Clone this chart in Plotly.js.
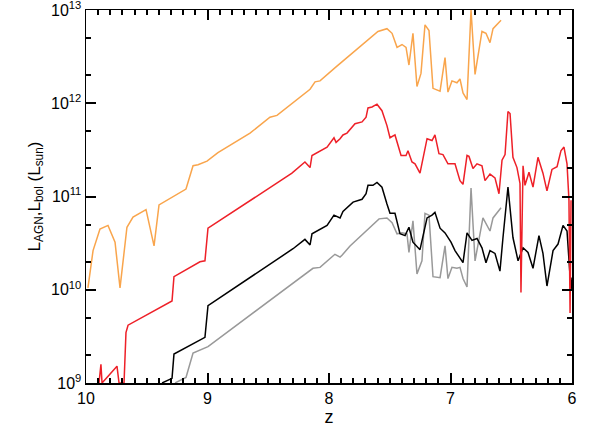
<!DOCTYPE html>
<html><head><script src="https://cdn.plot.ly/plotly-3.0.1.min.js"></script>
<style>body{margin:0}</style></head><body><div id="c" style="width:599px;height:437px"></div>
<script>
const orangeZ=[9.984,9.942,9.885,9.819,9.761,9.720,9.663,9.613,9.506,9.440,9.399,9.177,9.119,9.078,9.004,8.914,8.650,8.486,8.428,8.156,8.115,8.074,7.942,7.852,7.597,7.523,7.481,7.440,7.399,7.366,7.342,7.309,7.276,7.243,7.210,7.177,7.144,7.086,7.045,7.021,6.988,6.947,6.922,6.897,6.864,6.831,6.798,6.741,6.708,6.675,6.650,6.584];
const orangeLog=[10.02,10.42,10.65,10.69,10.51,10.02,10.67,10.78,10.86,10.47,10.91,11.08,11.33,11.34,11.38,11.47,11.68,11.85,11.87,12.15,12.23,12.24,12.39,12.49,12.77,12.80,12.75,12.60,12.63,12.60,12.41,12.75,12.18,12.32,12.84,12.78,12.16,12.13,12.49,12.12,12.24,12.22,12.26,12.11,12.04,13.00,12.31,12.77,12.75,12.65,12.80,12.89];
const redZ=[9.893,9.877,9.868,9.761,9.745,9.728,9.687,9.671,9.654,9.292,9.276,9.062,9.021,8.996,8.650,8.305,8.198,8.156,8.140,8.016,7.959,7.942,7.909,7.885,7.852,7.786,7.728,7.695,7.679,7.646,7.605,7.564,7.523,7.498,7.457,7.407,7.366,7.350,7.317,7.292,7.251,7.193,7.152,7.128,7.095,7.062,7.021,6.963,6.922,6.897,6.864,6.848,6.815,6.782,6.741,6.716,6.675,6.634,6.601,6.576,6.551,6.527,6.510,6.486,6.453,6.428,6.420,6.403,6.387,6.354,6.321,6.280,6.239,6.206,6.165,6.123,6.091,6.066,6.041,6.025,6.016,6.008];
const redLog=[9.00,9.20,9.00,9.15,9.18,9.00,9.00,9.54,9.62,9.88,10.14,10.30,10.31,10.66,10.96,11.25,11.37,11.31,11.44,11.53,11.63,11.58,11.62,11.66,11.68,11.78,11.80,11.85,11.95,11.96,11.99,11.92,11.76,11.63,11.66,11.44,11.44,11.49,11.37,11.35,11.25,11.62,11.60,11.66,11.46,11.45,11.35,11.35,11.17,11.13,11.44,11.43,11.30,11.35,11.33,11.17,11.24,11.20,11.03,11.39,11.45,11.91,11.89,11.42,11.31,11.14,9.97,11.33,11.12,11.26,11.10,11.42,11.25,11.06,11.29,11.32,11.49,11.53,11.35,10.96,9.75,10.96];
const blackZ=[9.374,9.292,9.276,9.037,9.021,8.996,8.403,8.296,8.198,8.156,8.140,8.016,7.959,7.909,7.885,7.802,7.728,7.695,7.679,7.638,7.605,7.564,7.523,7.498,7.457,7.416,7.374,7.342,7.309,7.251,7.193,7.152,7.128,7.086,7.045,6.996,6.963,6.922,6.897,6.864,6.823,6.782,6.741,6.708,6.675,6.634,6.593,6.568,6.527,6.486,6.444,6.403,6.362,6.321,6.272,6.239,6.206,6.156,6.115,6.074,6.041,6.008,6.000];
const blackLog=[9.00,9.05,9.31,9.48,9.49,9.83,10.34,10.44,10.54,10.48,10.60,10.69,10.80,10.77,10.84,10.94,10.97,11.03,11.12,11.12,11.15,11.10,10.92,10.82,10.82,10.60,10.58,10.67,10.51,10.43,10.77,10.80,10.83,10.66,10.61,10.51,10.42,10.34,10.29,10.61,10.53,10.55,10.45,10.29,10.42,10.39,10.20,10.56,11.10,10.56,10.31,10.45,10.40,10.23,10.58,10.39,10.04,10.42,10.49,10.69,10.63,9.99,10.13];
const grayZ=[9.267,9.177,9.119,8.996,8.132,8.074,7.951,7.909,7.893,7.827,7.588,7.523,7.481,7.440,7.399,7.358,7.342,7.309,7.276,7.235,7.210,7.177,7.144,7.086,7.045,7.021,6.988,6.947,6.922,6.897,6.864,6.831,6.798,6.733,6.675,6.650,6.584];
const grayLog=[9.00,9.06,9.32,9.39,10.23,10.24,10.38,10.35,10.37,10.47,10.76,10.77,10.72,10.60,10.61,10.60,10.40,10.74,10.17,10.31,10.82,10.80,10.14,10.13,10.47,10.12,10.24,10.23,10.24,10.12,10.03,11.09,10.31,10.77,10.63,10.77,10.88];
const xMajor=[10,9,8,7,6];
const yMajorExp=[9,10,11,12,13];
const p=a=>a.map(v=>Math.pow(10,v));
const tr=(x,y,c)=>({x:x,y:p(y),mode:'lines',line:{color:c,width:1.5},showlegend:false,hoverinfo:'none'});
const F='Liberation Sans, Arial, sans-serif';
const W=599,H=437,M={l:86,r:27,t:10,b:54};
const ax={showline:true,linecolor:'#000',linewidth:1.5,mirror:'allticks',ticks:'inside',ticklen:10,tickwidth:2,tickcolor:'#000',showgrid:false,zeroline:false,ticklabeloverflow:'allow',tickfont:{family:F,size:16,color:'#000'}};
const layout={width:W,height:H,margin:M,paper_bgcolor:'#fff',plot_bgcolor:'#fff',
xaxis:Object.assign({},ax,{range:[10,6],tickmode:'array',tickvals:xMajor,ticktext:xMajor.map(String),minor:{tickmode:'linear',tick0:6,dtick:0.1,ticks:'inside',ticklen:5,tickwidth:2,tickcolor:'#000'},title:{text:'z',font:{family:F,size:18,color:'#000'},standoff:4}}),
yaxis:Object.assign({},ax,{type:'log',range:[8.9999,13.0001],tickmode:'array',tickvals:yMajorExp.map(e=>Math.pow(10,e)),ticktext:yMajorExp.map(e=>'10<sup>'+e+'</sup>'),minor:{dtick:'D2',ticks:'inside',ticklen:5,tickwidth:2,tickcolor:'#000'},title:{text:'L<sub>AGN</sub>,L<sub>bol</sub> (L<sub>sun</sub>)',font:{family:F,size:17,color:'#000'},standoff:6}})};
Plotly.newPlot('c',[tr(orangeZ,orangeLog,'#f9a54c'),tr(grayZ,grayLog,'#999999'),tr(blackZ,blackLog,'#000000'),tr(redZ,redLog,'#ee2028')],layout,{staticPlot:true});
</script></body></html>
